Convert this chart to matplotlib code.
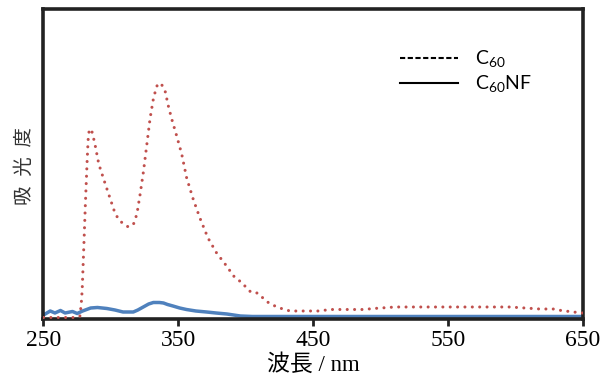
import numpy as np
import matplotlib
matplotlib.use("Agg")
import matplotlib.pyplot as plt
from matplotlib.lines import Line2D

# absorbance (arbitrary units)
wl_c60 = [250, 255, 260, 265, 270, 275, 277, 278, 278.7, 279.9, 281.1, 282.4, 283.1, 284,
          286, 288, 291, 294.6, 298.3, 303, 306, 309.4, 313, 316.8, 319.3, 321.7, 324.2,
          326.7, 329.1, 331.6, 334.1, 337, 340.2, 342.6, 345.1, 348.8, 352.5, 356.2, 361,
          366, 372, 378.4, 385.8, 391, 394.5, 397.5, 400, 403.7, 406, 408.6, 412, 415,
          418.5, 421.7, 424, 427.5, 430, 433, 455, 462, 472, 487, 495, 511, 560, 579, 596,
          607, 618, 628, 634, 643, 650]
abs_c60 = [0.015, 0.015, 0.015, 0.015, 0.015, 0.015, 0.03, 0.15, 0.29, 0.72, 1.16, 1.59,
           1.79, 1.90, 1.87, 1.76, 1.55, 1.40, 1.25, 1.06, 0.99, 0.95, 0.92, 0.95, 1.05,
           1.25, 1.48, 1.75, 2.01, 2.21, 2.33, 2.36, 2.28, 2.13, 2.00, 1.83, 1.65, 1.41,
           1.20, 1.01, 0.81, 0.66, 0.53, 0.43, 0.39, 0.36, 0.32, 0.27, 0.26, 0.26, 0.22,
           0.18, 0.15, 0.13, 0.117, 0.10, 0.09, 0.08, 0.08, 0.095, 0.095, 0.095, 0.105,
           0.12, 0.12, 0.12, 0.12, 0.11, 0.10, 0.10, 0.085, 0.07, 0.06]

wl_nf = [250, 255, 258.5, 262.6, 266, 271.5, 275, 279, 285, 290, 297, 303, 309, 316.6,
         320, 324, 328, 331.5, 336, 339, 342, 346, 351, 356, 363, 371, 378, 386, 391,
         396, 405, 650]
abs_nf = [0.04, 0.08, 0.06, 0.085, 0.06, 0.075, 0.055, 0.08, 0.11, 0.115, 0.105, 0.09,
          0.07, 0.07, 0.09, 0.12, 0.15, 0.165, 0.165, 0.16, 0.145, 0.13, 0.11, 0.095,
          0.08, 0.07, 0.06, 0.05, 0.04, 0.03, 0.025, 0.025]

xticks = [250, 350, 450, 550, 650]
legend_labels = [r'C$_{\mathregular{60}}$', r'C$_{\mathregular{60}}$NF']

plt.rcParams['font.family'] = ['Liberation Serif', 'Noto Sans CJK JP']
plt.rcParams['mathtext.fontset'] = 'custom'
plt.rcParams['mathtext.rm'] = 'Lato'

fig = plt.figure(figsize=(6.16, 3.76), dpi=100)
ax = fig.add_axes([0.0706, 0.1516, 0.8755, 0.8232])

ax.plot(wl_nf, abs_nf, color='#4f81bd', lw=2.5, solid_capstyle='butt', zorder=2)
ax.plot(wl_c60, abs_c60, color='#c0504d', lw=2.2, linestyle=(0, (0.01, 2.4)),
        dash_capstyle='round', zorder=3)

ax.set_xlim(250, 650)
ax.set_ylim(0, 3.095)
ax.set_xticks(xticks)
ax.set_yticks([])
ax.tick_params(axis='x', direction='out', length=5, width=2, labelsize=17, pad=3,
               color='#222222')
for s in ax.spines.values():
    s.set_linewidth(2.6)
    s.set_color('#222222')

ax.set_xlabel('波長 / nm', fontsize=16.5, labelpad=2)
fig.text(0.039, 0.558, '吸\u2002光\u2002度', rotation=90, ha='center', va='center',
         fontsize=14, family=['Noto Sans CJK JP', 'DejaVu Sans'], color='#333333')

handles = [Line2D([], [], color='black', lw=1.5, linestyle=(0, (2.5, 1.2))),
           Line2D([], [], color='black', lw=1.5)]
leg = ax.legend(handles, legend_labels, loc='upper left', frameon=False,
                bbox_to_anchor=(382 / 616, 1 - 31 / 376), bbox_transform=fig.transFigure,
                handlelength=3.0, handletextpad=0.9, labelspacing=0.2,
                prop={'family': 'Lato', 'size': 14})

fig.savefig('out.png', dpi=100)
